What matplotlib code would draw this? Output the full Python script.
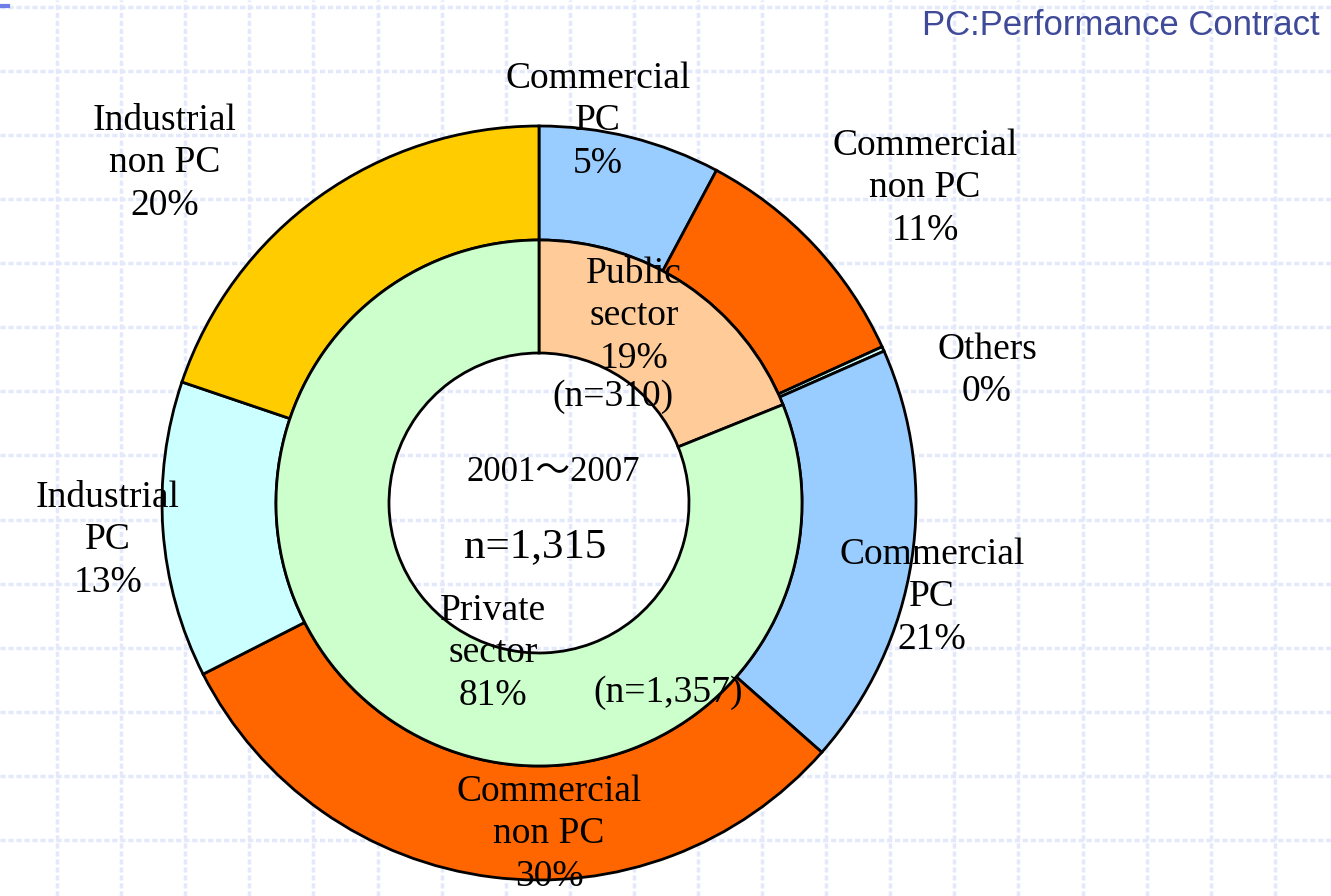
import matplotlib
matplotlib.use('Agg')
import matplotlib.pyplot as plt
import numpy as np

outer_labels = ['Commercial\nPC\n5%', 'Commercial\nnon PC\n11%', 'Others\n0%',
                'Commercial\nPC\n21%', 'Commercial\nnon PC\n30%',
                'Industrial\nPC\n13%', 'Industrial\nnon PC\n20%']
outer_share = [7.8, 10.4, 0.2, 18.1, 31.0, 12.7, 19.8]
outer_colors = ['#99CCFF', '#FF6600', '#CCFFFF', '#99CCFF', '#FF6600', '#CCFFFF', '#FFCC00']

# inner ring
inner_labels = ['Public\nsector\n19%', 'Private\nsector\n81%']
inner_share = [18.9, 81.1]
inner_n = ['(n=310)', '(n=1,357)']
inner_colors = ['#FFCC99', '#CCFFCC']

period = '2001～2007'
total_n = 'n=1,315'
note = 'PC:Performance Contract'

W, H = 1331, 896
fig = plt.figure(figsize=(W / 100, H / 100), dpi=100)
ax = fig.add_axes([0, 0, 1, 1])

def py(y):  # pixel row -> data y
    return H - y

# slide background grid
for gx in np.arange(57, W, 64.1):
    ax.axvline(gx, color='#e3e9fb', lw=2.5, ls=(0, (1.5, 0.8)), zorder=0)
for gy in np.arange(6.7, H, 64.1):
    ax.axhline(py(gy), color='#e3e9fb', lw=2.5, ls=(0, (1.5, 0.8)), zorder=0)
ax.plot([0, 8], [py(5.5), py(5.5)], color='#6f7fe8', lw=3, zorder=1)

cx, cy = 539, py(503)
r_out, r_mid, r_in = 377, 263, 150
wp = dict(edgecolor='black', linewidth=2)

ax.pie(outer_share, colors=outer_colors, radius=r_out, center=(cx, cy),
       startangle=90, counterclock=False,
       wedgeprops=dict(width=r_out - r_mid, **wp))
ax.pie(inner_share, colors=inner_colors, radius=r_mid, center=(cx, cy),
       startangle=90, counterclock=False,
       wedgeprops=dict(width=r_mid - r_in, **wp))

ax.set_xlim(0, W)
ax.set_ylim(0, H)
ax.set_aspect('equal')
ax.axis('off')

serif = ['Liberation Serif', 'Noto Sans CJK JP']
lab = dict(family=serif, fontsize=27, ha='center', va='center',
           linespacing=1.3, zorder=5)

outer_pos = [(598, 121), (925, 188), (987, 371), (932, 597),
             (549, 834), (108, 540), (165, 163)]
for t, (x, y) in zip(outer_labels, outer_pos):
    ax.text(x, py(y), t, **lab)

inner_pos = [(634, 316), (493, 653)]
n_pos = [(613, 397), (668, 693)]
for t, (x, y) in zip(inner_labels, inner_pos):
    ax.text(x, py(y), t, **lab)
for t, (x, y) in zip(inner_n, n_pos):
    ax.text(x, py(y), t, **lab)

ax.text(553, py(472), period, family=serif, fontsize=25, ha='center', va='center', zorder=5)
ax.text(535, py(547), total_n, family=serif, fontsize=31, ha='center', va='center', zorder=5)

ax.text(1320, py(25), note, family=['Liberation Sans'], fontsize=25,
        color='#3f4a99', ha='right', va='center', zorder=5)

fig.savefig('out.png', dpi=100)
